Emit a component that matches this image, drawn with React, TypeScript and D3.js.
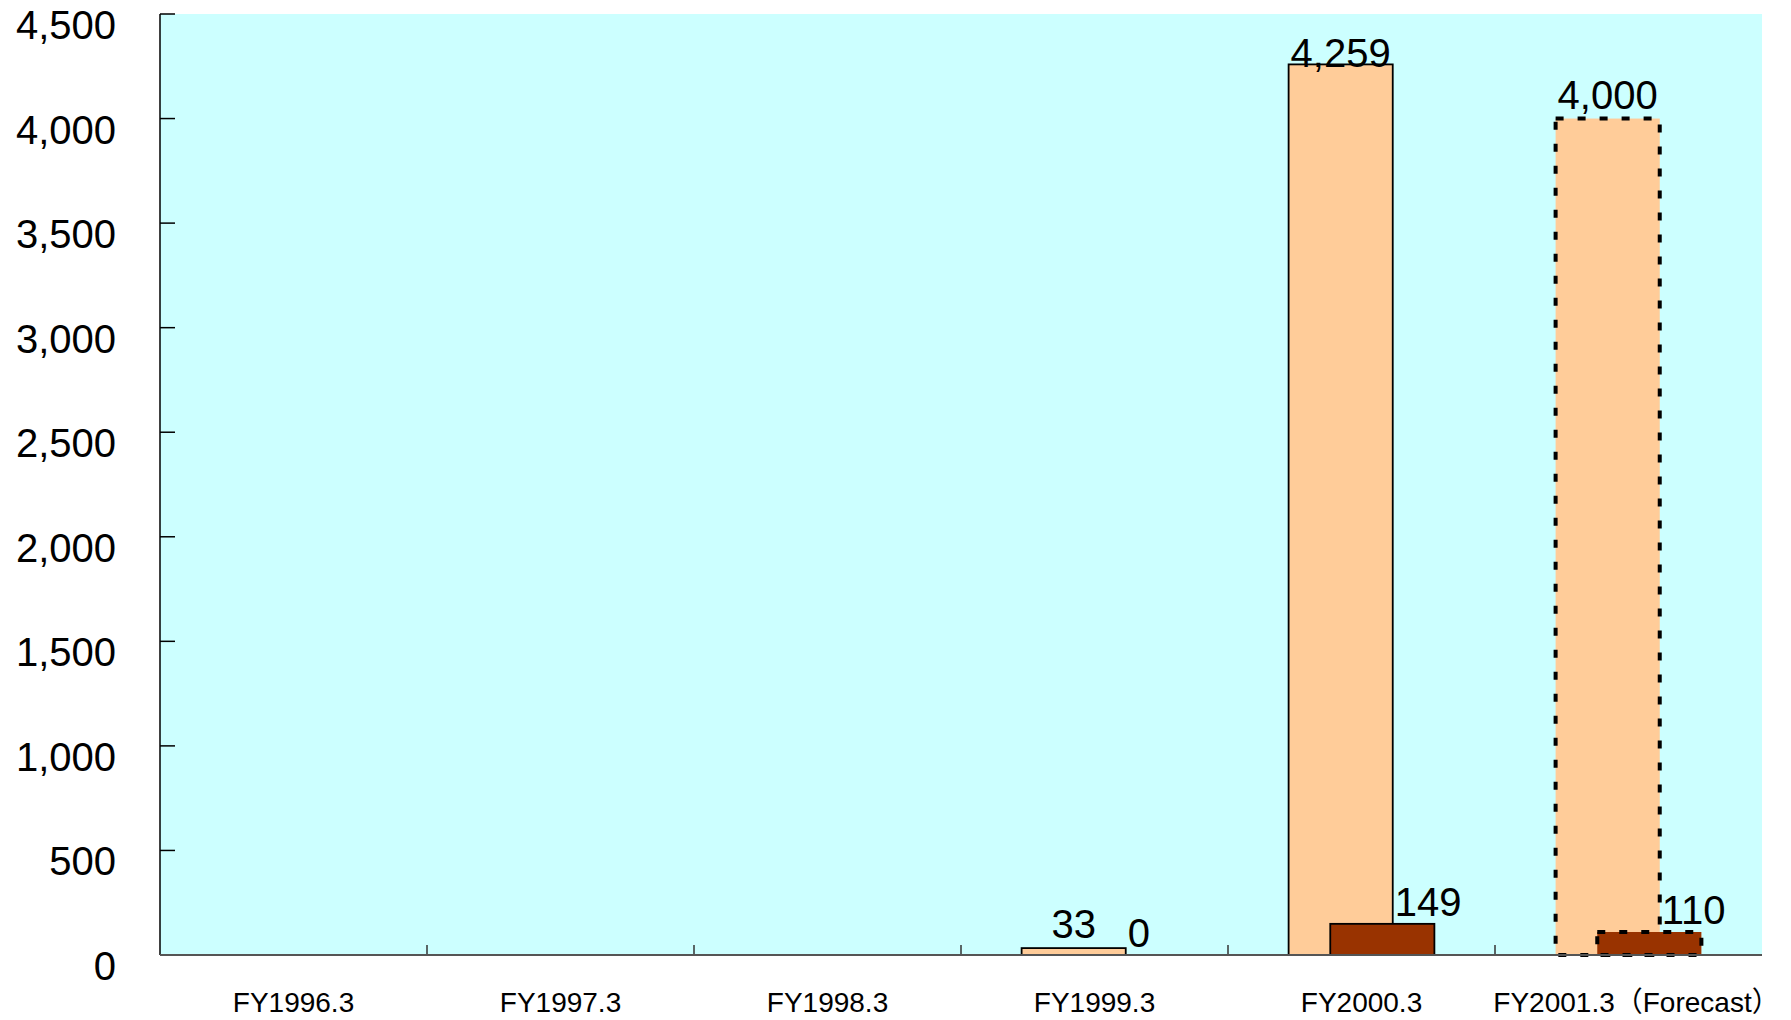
import React from "react";
import * as d3 from "d3";

// Fiscal years on the category axis
const categories = [
  "FY1996.3",
  "FY1997.3",
  "FY1998.3",
  "FY1999.3",
  "FY2000.3",
  "FY2001.3（Forecast）",
];
// First series (light orange bars)
const seriesA: (number | null)[] = [null, null, null, 33, 4259, 4000];
// Second series (brown bars)
const seriesB: (number | null)[] = [null, null, null, 0, 149, 110];
// Which years are forecasts (drawn with dashed outlines)
const isForecast = [false, false, false, false, false, true];
// Value axis ticks
const yTicks = [0, 500, 1000, 1500, 2000, 2500, 3000, 3500, 4000, 4500];

const W = 1791;
const H = 1020;
const plot = { left: 160, right: 1762, top: 14, bottom: 955 };
const FONT = "'Liberation Sans', Arial, 'Noto Sans CJK JP', sans-serif";

export default function App() {
  const x = d3
    .scaleBand<string>()
    .domain(categories)
    .range([plot.left, plot.right])
    .paddingInner(0)
    .paddingOuter(0);
  const y = d3.scaleLinear().domain([0, 4500]).range([plot.bottom, plot.top]);

  const band = x.bandwidth();
  const barW = band * 0.39;
  const shift = barW * 0.4; // 60% overlap between the two series
  const groupW = barW + shift;
  const fmt = d3.format(",");

  const dash = "8 14";

  return (
    <svg
      width={W}
      height={H}
      style={{ position: "absolute", left: 0, top: 0, background: "#fff" }}
      fontFamily={FONT}
    >
      {/* plot background */}
      <rect
        x={plot.left}
        y={plot.top}
        width={plot.right - plot.left}
        height={plot.bottom - plot.top}
        fill="#CCFFFF"
      />

      {/* value axis ticks and labels */}
      {yTicks.map((t) => (
        <g key={t}>
          <line
            x1={plot.left}
            x2={plot.left + 15}
            y1={y(t)}
            y2={y(t)}
            stroke="#000"
            strokeWidth={1.5}
          />
          <text
            x={116}
            y={y(t) + 25}
            textAnchor="end"
            fontSize={40}
            fill="#000"
          >
            {fmt(t)}
          </text>
        </g>
      ))}

      {/* category ticks */}
      {categories.slice(1).map((c) => (
        <line
          key={c}
          x1={x(c)!}
          x2={x(c)!}
          y1={plot.bottom}
          y2={plot.bottom - 10}
          stroke="#333"
          strokeWidth={1.5}
        />
      ))}

      {/* bars */}
      {categories.map((c, i) => {
        const x0 = x(c)! + (band - groupW) / 2;
        const a = seriesA[i];
        const b = seriesB[i];
        const dashed = isForecast[i];
        return (
          <g key={c}>
            {a !== null && (
              <rect
                x={x0}
                y={y(a)}
                width={barW}
                height={y(0) - y(a)}
                fill="#FFCC99"
                stroke="#000"
                strokeWidth={dashed ? 4 : 1.8}
                strokeDasharray={dashed ? dash : undefined}
              />
            )}
            {b !== null && b > 0 && (
              <rect
                x={x0 + shift}
                y={y(b)}
                width={barW}
                height={y(0) - y(b)}
                fill="#993300"
                stroke="#000"
                strokeWidth={dashed ? 4 : 1.8}
                strokeDasharray={dashed ? dash : undefined}
              />
            )}
          </g>
        );
      })}

      {/* axis lines */}
      <line
        x1={plot.left}
        x2={plot.left}
        y1={plot.top}
        y2={plot.bottom}
        stroke="#000"
        strokeWidth={1.5}
      />
      <line
        x1={plot.left}
        x2={plot.right}
        y1={plot.bottom}
        y2={plot.bottom}
        stroke="#555"
        strokeWidth={2}
      />

      {/* data labels */}
      {categories.map((c, i) => {
        const x0 = x(c)! + (band - groupW) / 2;
        const a = seriesA[i];
        const b = seriesB[i];
        return (
          <g key={"lbl" + c} fontSize={40} fill="#000">
            {a !== null && (
              <text
                x={x0 + barW / 2}
                y={Math.max(y(a) - 10, 67)}
                textAnchor="middle"
              >
                {fmt(a)}
              </text>
            )}
            {b !== null && (
              <text x={x0 + barW + 2} y={y(b) - 8} textAnchor="start">
                {fmt(b)}
              </text>
            )}
          </g>
        );
      })}

      {/* category labels */}
      {categories.map((c, i) => (
        <text
          key={"cat" + c}
          x={x(c)! + band / 2 + (isForecast[i] ? 8 : 0)}
          y={1012}
          textAnchor="middle"
          fontSize={28}
          fill="#000"
        >
          {c}
        </text>
      ))}
    </svg>
  );
}
